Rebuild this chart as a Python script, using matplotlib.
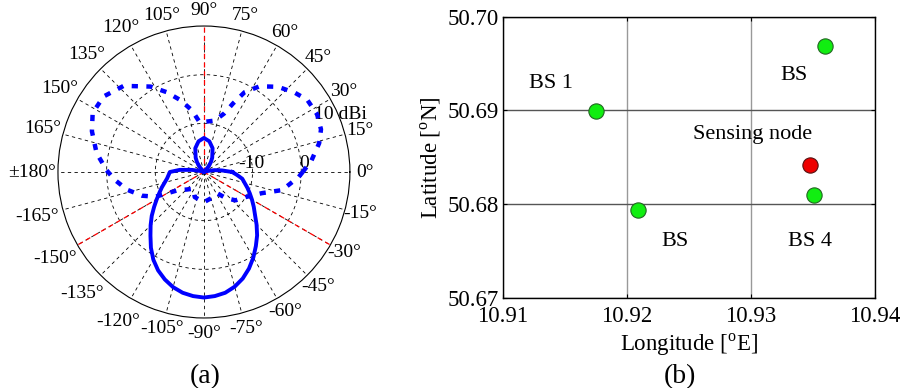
import numpy as np
import matplotlib
matplotlib.use('Agg')
import matplotlib.pyplot as plt

plt.rcParams['font.family'] = 'Liberation Serif'
plt.rcParams['mathtext.fontset'] = 'custom'
plt.rcParams['mathtext.rm'] = 'Liberation Serif'

# antenna gain patterns [deg, dBi]
ang_solid = [0, 5, 10, 20, 30, 40, 45, 50, 55, 60, 70, 80, 90, 100, 110, 120, 125,
             130, 135, 140, 150, 160, 170, 175, 180, 190,
             200, 205, 210, 215, 220, 225, 230, 235, 240, 245, 250, 255, 260, 265,
             270, 275, 280, 285, 290, 295, 300, 305, 310, 315, 320, 325, 330, 335,
             340, 350, 355, 360]
gain_solid = [-14.2, -16.3, -17.8, -19.5, -20, -20, -19.8, -18.5, -17.5, -16.6, -14.8,
              -13.6, -13.0, -13.6, -14.8, -16.6, -17.5, -18.5, -19.8, -20, -20, -19.5,
              -17.5, -15.0, -13.0, -12.3,
              -10.8, -9.9, -8.8, -7.5, -6.0, -4.5, -2.9, -1.0, 0.8, 2.3, 3.5, 4.5, 5.2,
              5.6, 5.8, 5.6, 5.2, 4.4, 3.3, 1.9, 0.3, -1.4, -3.0, -4.7, -6.3, -7.5,
              -8.6, -9.6, -10.5, -12.0, -13.2, -14.2]

ang_dash = [0, 6, 14, 20, 27, 35, 41, 49, 57, 63, 67, 71, 78, 90, 95, 101, 108, 115,
            122, 133, 143, 152, 160, 170, 179, 185, 193, 201, 207, 215, 226, 237, 250,
            270, 290, 303, 310, 318, 329, 340, 347, 357, 360]
gain_dash = [0.3, 2.2, 4.4, 5.6, 6.1, 5.9, 4.8, 3.2, 1.0, -1.6, -4.7, -7.3, -9.2, -9.7,
             -9.7, -7.1, -4.5, -1.9, 0.7, 4.2, 5.8, 5.9, 4.5, 2.4, 0.0, -1.6, -3.8, -6.4,
             -8.8, -13.5, -15.0, -15.9, -14.5, -13.8, -14.5, -14.7, -13.0, -11.3, -10.0,
             -7.3, -3.5, -0.5, 0.3]

sector_edges = [90, -30, -150]

# base station map
bs_lon = [10.9175, 10.9209, 10.9360, 10.9351]
bs_lat = [50.6899, 50.6794, 50.6969, 50.6810]
node_lon = [10.9348]
node_lat = [50.6842]
map_labels = ['BS 1', 'BS', 'BS', 'BS 4', 'Sensing node']
label_lon = [10.9139, 10.9239, 10.9335, 10.9348, 10.9301]
label_lat = [50.6929, 50.6760, 50.6937, 50.6760, 50.6874]

fig = plt.figure(figsize=(9, 3.88), dpi=100)

# ---- (a) polar pattern
axp = fig.add_axes([0.0644, 0.1804, 0.3244, 0.7526], projection='polar')
axp.set_rlim(-20, 10)
axp.set_xticks(np.radians(np.arange(0, 360, 15)))
axp.set_xticklabels([])
axp.set_yticks([-10, 0])
axp.set_yticklabels([])
axp.grid(True, color='black', linestyle=(0, (4, 4)), linewidth=0.6)
axp.spines['polar'].set_linewidth(0.8)

for a in sector_edges:
    axp.plot([np.radians(a)] * 2, [-20, 10], color='red', linestyle=(0, (4, 3)),
             linewidth=0.9, zorder=3)

axp.plot(np.radians(ang_dash), gain_dash, color='blue', linewidth=3.2,
         linestyle=(0, (1.4, 1.9)), zorder=4)
axp.plot(np.radians(ang_solid), gain_solid, color='blue', linewidth=2.8, zorder=5)

for a in range(-165, 195, 15):
    if a == 180:
        lab = '\u00b1180\u00b0'
    else:
        lab = '%d\u00b0' % a
    th = np.radians(a)
    r = 13.2
    if np.cos(th) < -0.3:
        r += 1.0
        if a < 0 or a == 180:
            r += 1.2
    axp.text(th, r, lab, ha='center', va='center', fontsize=14, clip_on=False)

axp.text(0, -10.3, '-10', ha='center', va='bottom', fontsize=14)
axp.text(0, 0.5, '0', ha='center', va='bottom', fontsize=14)
axp.text(np.radians(23), 10.5, '10 dBi', ha='center', va='center', fontsize=14)

# ---- (b) locations
axm = fig.add_axes([0.559, 0.2327, 0.413, 0.7242])
axm.plot(bs_lon, bs_lat, 'o', markersize=11, markerfacecolor='#11ee11',
         markeredgecolor='#226622', markeredgewidth=0.8, zorder=5)
axm.plot(node_lon, node_lat, 'o', markersize=11, markerfacecolor='#ee0000',
         markeredgecolor='#551111', markeredgewidth=0.8, zorder=5)
for lab, x, y in zip(map_labels, label_lon, label_lat):
    axm.text(x, y, lab, ha='center', va='center', fontsize=16)

axm.set_xlim(10.91, 10.94)
axm.set_ylim(50.67, 50.70)
axm.set_xticks([10.91, 10.92, 10.93, 10.94])
axm.set_xticklabels(['10.91', '10.92', '10.93', '10.94'])
axm.set_yticks([50.67, 50.68, 50.69, 50.70])
axm.set_yticklabels(['50.67', '50.68', '50.69', '50.70'])
axm.tick_params(direction='in', length=3, top=True, right=True, labelsize=16.5)
axm.tick_params(axis='x', pad=6)
axm.tick_params(axis='y', pad=3)
axm.xaxis.grid(True, color='#999999', linewidth=1.0)
axm.yaxis.grid(True, color='#555555', linewidth=1.0)
for s in axm.spines.values():
    s.set_linewidth(1.0)
axm.set_xlabel('Longitude [$^{\\mathrm{o}}$E]', fontsize=16.5, labelpad=3)
axm.set_ylabel('Latitude [$^{\\mathrm{o}}$N]', fontsize=16.5, labelpad=3)

fig.text(205 / 900, 1 - 377 / 388, '(a)', ha='center', va='center', fontsize=20)
fig.text(680 / 900, 1 - 377 / 388, '(b)', ha='center', va='center', fontsize=20)

fig.savefig('out.png', dpi=100)
